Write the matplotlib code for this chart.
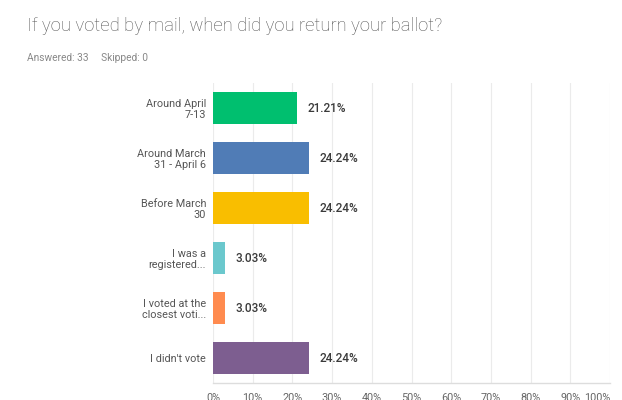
import matplotlib.pyplot as plt

categories = ["Around April\n7-13", "Around March\n31 - April 6", "Before March\n30",
              "I was a\nregistered...", "I voted at the\nclosest voti...", "I didn't vote"]
percents = [21.21, 24.24, 24.24, 3.03, 3.03, 24.24]
colors = ["#00BF6F", "#507CB6", "#F9BE00", "#6BC8CD", "#FF8B4F", "#7D5E90"]
ticks = [0, 10, 20, 30, 40, 50, 60, 70, 80, 90, 100]

plt.rcParams['font.family'] = ['Roboto', 'DejaVu Sans']

fig = plt.figure(figsize=(6.22, 4.0), dpi=100)
ax = fig.add_axes([213 / 622, 17 / 400, 397 / 622, 300 / 400])

y = list(range(len(categories)))
ax.barh(y, percents, height=0.64, color=colors, zorder=3)
for yi, p in zip(y, percents):
    ax.annotate("%.2f%%" % p, (p, yi), xytext=(7.5, 0), textcoords="offset points",
                va="center", ha="left", fontsize=8.5, color="#3a3a3a", fontweight="medium")

ax.set_xlim(0, 100)
ax.set_ylim(len(categories) - 0.5, -0.5)
ax.set_yticks(y)
ax.set_yticklabels(categories, fontsize=7.8, color="#555555", linespacing=1.1)
ax.set_xticks(ticks)
ax.set_xticklabels(["%d%%" % t for t in ticks], fontsize=7.8, color="#666666")
ax.get_xticklabels()[-1].set_horizontalalignment("right")
ax.tick_params(axis="both", length=0)
ax.tick_params(axis="x", pad=7.5)
ax.tick_params(axis="y", pad=5)
ax.grid(axis="x", color="#ebebeb", linewidth=0.8, zorder=0)
for s in ["top", "right", "left"]:
    ax.spines[s].set_visible(False)
ax.spines["bottom"].set_color("#dddddd")
ax.spines["bottom"].set_linewidth(1.0)

fig.text(27 / 622, 1 - 26 / 400, "If you voted by mail, when did you return your ballot?",
         fontsize=13.3, color="#555555", fontweight="light", va="center", ha="left")
fig.text(27 / 622, 1 - 58 / 400, "Answered: 33     Skipped: 0",
         fontsize=7.3, color="#888888", va="center", ha="left")

fig.savefig("out.png", dpi=100)
